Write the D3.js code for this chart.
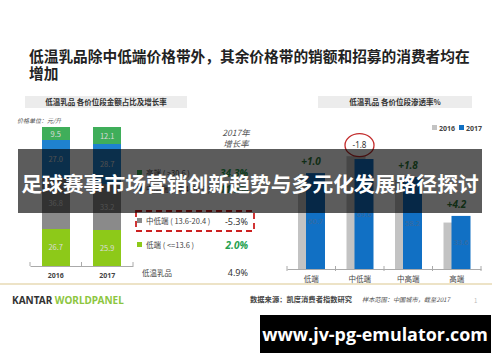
<!DOCTYPE html>
<html>
<head>
<meta charset="utf-8">
<script src="https://cdn.jsdelivr.net/npm/d3@7"></script>
<style>
  body { margin: 0; background: #fff; }
  svg { display: block; font-family: "Noto Sans CJK SC", "Noto Sans", sans-serif; }
</style>
</head>
<body>
<div id="chart"></div>
<script>
// left: share of sales by price band (stacked, %)
var years = ['2016', '2017']
var bands = ['低端', '中低端', '中高端', '高端']
var share2016 = [26.7, 36.8, 27.0, 9.5]
var share2017 = [25.9, 33.2, 28.7, 12.1]
var bandColors = ['#8dc919', '#8a8a8a', '#1f82cf', '#3fae5a']

// legend / growth column (top to bottom)
var legendNames = ['高端', '中高端', '中低端', '低端']
var legendRanges = ['( >30.6 )', '( 20.4-30.6 )', '( 13.6-20.4 )', '( <=13.6 )']
var growth2017 = ['34.3%', '11.5%', '-5.3%', '2.0%']
var totalGrowth = '4.9%'

// right: penetration by price band
var penCats = ['低端', '中低端', '中高端', '高端']
var pen2016 = [59.7, 71.4, 56.4, 29.4]
var pen2017 = [60.7, 69.6, 58.2, 33.6]
var penDiff = ['+1.0', '-1.8', '+1.8', '+4.2']

var svg = d3.select('#chart').append('svg')
  .attr('width', 500)
  .attr('height', 362)

svg.append('rect').attr('width', 500).attr('height', 362).style('fill', '#fff')

// title
svg.append('text')
  .attr('x', 29).attr('y', 62)
  .style('font-size', '14.7px').style('font-weight', 700).style('fill', '#222')
  .text('低温乳品除中低端价格带外，其余价格带的销额和招募的消费者均在')
svg.append('text')
  .attr('x', 29).attr('y', 79)
  .style('font-size', '14.7px').style('font-weight', 700).style('fill', '#222')
  .text('增加')

// panel headers
function header(x0, x1, label) {
  svg.append('rect')
    .attr('x', x0).attr('y', 96).attr('width', x1 - x0).attr('height', 12)
    .style('fill', '#ececec')
  svg.append('text')
    .attr('x', (x0 + x1) / 2).attr('y', 105)
    .style('text-anchor', 'middle').style('font-size', '7.5px').style('font-weight', 700)
    .style('fill', '#333')
    .text(label)
}
header(25, 187, '低温乳品  各价位段金额占比及增长率')
header(318, 472, '低温乳品  各价位段渗透率%')

svg.append('text')
  .attr('x', 17).attr('y', 123)
  .style('font-size', '6px').style('font-style', 'italic').style('fill', '#555')
  .text('价格单位：元/升')

// ---- left stacked bars
var xL = d3.scaleBand().domain(years).range([30, 133])
var yL = d3.scaleLinear().domain([0, 100]).range([266, 127])
var barW = 28

var shares = [share2016, share2017]
var gL = svg.append('g')
years.forEach(function(yr, i) {
  var stackData = d3.stack().keys(d3.range(bands.length))([shares[i]])
  var cx = xL(yr) + xL.bandwidth() / 2
  stackData.forEach(function(layer, k) {
    var s = layer[0]
    gL.append('rect')
      .attr('x', cx - barW / 2)
      .attr('y', yL(s[1]))
      .attr('width', barW)
      .attr('height', yL(s[0]) - yL(s[1]))
      .style('fill', bandColors[k])
      .style('shape-rendering', 'crispEdges')
    gL.append('text')
      .attr('x', cx)
      .attr('y', (yL(s[0]) + yL(s[1])) / 2 + 3)
      .style('text-anchor', 'middle').style('font-size', '7.5px')
      .style('fill', '#dcdcdc')
      .text(shares[i][k].toFixed(1))
  })
})

var axL = d3.axisBottom(xL).tickSize(0).tickPadding(7)
var gAxL = svg.append('g').attr('transform', 'translate(0,266)').call(axL)
gAxL.select('.domain').style('stroke', '#aaa')
gAxL.selectAll('text').style('font-size', '7px').style('font-weight', 700).style('fill', '#444')
  .style('font-family', '"Noto Sans", sans-serif')
gAxL.selectAll('.sep').data([30, 30 + xL.bandwidth(), 133]).enter().append('line')
  .attr('x1', d => d).attr('x2', d => d).attr('y1', -4).attr('y2', 0)
  .style('stroke', '#aaa')

// ---- growth column
svg.append('text')
  .attr('x', 236).attr('y', 136)
  .style('text-anchor', 'middle').style('font-size', '8.5px').style('font-style', 'italic')
  .style('fill', '#555').text('2017年')
svg.append('text')
  .attr('x', 236).attr('y', 147)
  .style('text-anchor', 'middle').style('font-size', '8.5px').style('font-style', 'italic')
  .style('fill', '#555').text('增长率')

var legendY = [173, 189, 221, 245]
var legendColors = bandColors.slice().reverse()
legendNames.forEach(function(n, i) {
  var y = legendY[i]
  svg.append('rect')
    .attr('x', 137).attr('y', y - 3).attr('width', 5).attr('height', 5)
    .style('fill', legendColors[i])
  svg.append('text')
    .attr('x', 146).attr('y', y + 3)
    .style('font-size', '7.5px').style('fill', '#444')
    .text(n + ' ' + legendRanges[i])
  var neg = growth2017[i].charAt(0) === '-'
  svg.append('text')
    .attr('x', 248).attr('y', y + 4)
    .style('text-anchor', 'end').style('font-size', neg ? '9px' : '10px')
    .style('font-style', neg ? 'normal' : 'italic').style('font-weight', neg ? 400 : 700)
    .style('font-family', '"Noto Sans", sans-serif')
    .style('fill', neg ? '#333' : '#25a150')
    .text(growth2017[i])
})
svg.append('text')
  .attr('x', 142).attr('y', 276)
  .style('font-size', '7.5px').style('fill', '#444').text('低温乳品')
svg.append('text')
  .attr('x', 248).attr('y', 276)
  .style('text-anchor', 'end').style('font-size', '9px').style('fill', '#333')
  .style('font-family', '"Noto Sans", sans-serif')
  .text(totalGrowth)

svg.append('rect')
  .attr('x', 136).attr('y', 211).attr('width', 118).attr('height', 20)
  .style('fill', 'none').style('stroke', '#cc2020').style('stroke-width', 1.8)
  .style('stroke-dasharray', '6,4')

// ---- right grouped bars
var xR = d3.scaleBand().domain(penCats).range([287, 481])
var yR = d3.scaleLinear().domain([0, 100]).range([269, 111])
var bw = 19
var gR = svg.append('g')

gR.selectAll('.b16').data(pen2016).enter().append('rect')
  .attr('x', (d, i) => xR(penCats[i]) + 11)
  .attr('y', d => yR(d))
  .attr('width', bw)
  .attr('height', d => yR(0) - yR(d))
  .style('fill', '#c3c3c3')

gR.selectAll('.b17').data(pen2017).enter().append('rect')
  .attr('x', (d, i) => xR(penCats[i]) + 19)
  .attr('y', d => yR(d))
  .attr('width', bw)
  .attr('height', d => yR(0) - yR(d))
  .style('fill', '#1170c4')

gR.selectAll('.v17').data(pen2017).enter().append('text')
  .attr('x', (d, i) => xR(penCats[i]) + 19 + bw / 2)
  .attr('y', d => (yR(d) + yR(0)) / 2 + 3)
  .style('text-anchor', 'middle').style('font-size', '7.5px')
  .style('font-family', '"Noto Sans", sans-serif')
  .style('fill', '#3d6a9a')
  .text(d => d.toFixed(1))

gR.selectAll('.diff').data(penDiff).enter().append('text')
  .attr('x', (d, i) => xR(penCats[i]) + 24)
  .attr('y', (d, i) => Math.min(yR(pen2016[i]), yR(pen2017[i])) - 8)
  .style('text-anchor', 'middle')
  .style('font-family', '"Noto Sans", sans-serif')
  .style('font-size', d => d.charAt(0) === '-' ? '8px' : '10px')
  .style('font-style', d => d.charAt(0) === '-' ? 'normal' : 'italic')
  .style('font-weight', d => d.charAt(0) === '-' ? 400 : 700)
  .style('fill', d => d.charAt(0) === '-' ? '#333' : '#2f7d3a')
  .text(d => d)

// circle round the negative change
penDiff.forEach(function(d, i) {
  if (d.charAt(0) !== '-') return
  svg.append('ellipse')
    .attr('cx', xR(penCats[i]) + 24)
    .attr('cy', Math.min(yR(pen2016[i]), yR(pen2017[i])) - 11)
    .attr('rx', 14.5).attr('ry', 11.5)
    .style('fill', 'none').style('stroke', '#c22a2a').style('stroke-width', 1.3)
})

var axR = d3.axisBottom(xR).tickSize(0).tickPadding(8)
var gAxR = svg.append('g').attr('transform', 'translate(0,269)').call(axR)
gAxR.select('.domain').style('stroke', '#aaa')
gAxR.selectAll('text').style('font-size', '7.5px').style('fill', '#444')
  .style('font-family', '"Noto Sans CJK SC", sans-serif')
gAxR.selectAll('.sep').data(d3.range(penCats.length + 1)).enter().append('line')
  .attr('x1', d => 287 + d * xR.step()).attr('x2', d => 287 + d * xR.step())
  .attr('y1', -3).attr('y2', 2)
  .style('stroke', '#aaa')

// right legend
var legR = [['2016', '#c3c3c3', 432], ['2017', '#1170c4', 459]]
legR.forEach(function(l) {
  svg.append('rect').attr('x', l[2]).attr('y', 125).attr('width', 5).attr('height', 5).style('fill', l[1])
  svg.append('text').attr('x', l[2] + 7).attr('y', 130.5)
    .style('font-size', '7px').style('font-weight', 700).style('fill', '#444')
    .style('font-family', '"Noto Sans", sans-serif')
    .text(l[0])
})

// separator + footer
svg.append('line')
  .attr('x1', 0).attr('x2', 492).attr('y1', 284).attr('y2', 284)
  .style('stroke', '#dcc78f').style('stroke-width', 1.2)

var kt = svg.append('text')
  .attr('x', 12).attr('y', 304)
  .style('font-size', '10px').style('font-weight', 700)
  .style('font-family', '"Noto Sans", sans-serif')
kt.append('tspan').style('fill', '#333').text('KANTAR ')
kt.append('tspan').style('fill', '#8dc63f').text('WORLDPANEL')

svg.append('text')
  .attr('x', 250).attr('y', 302)
  .style('font-size', '7.3px').style('font-weight', 700).style('fill', '#444')
  .text('数据来源：凯度消费者指数研究')
svg.append('text')
  .attr('x', 362).attr('y', 302)
  .style('font-size', '6.2px').style('font-style', 'italic').style('fill', '#555')
  .text('样本范围：中国城市，截至2017')
svg.append('text')
  .attr('x', 474).attr('y', 303)
  .style('font-size', '6px').style('fill', '#bbb').text('1')

// overlay banner
svg.append('rect')
  .attr('x', 18).attr('y', 149).attr('width', 464).attr('height', 64)
  .style('fill', 'rgba(0,0,0,0.64)')
svg.append('text')
  .attr('x', 250).attr('y', 192)
  .style('text-anchor', 'middle').style('font-size', '20.8px').style('font-weight', 700)
  .style('fill', '#fff')
  .text('足球赛事市场营销创新趋势与多元化发展路径探讨')

// watermark
svg.append('rect')
  .attr('x', 260).attr('y', 315).attr('width', 231).attr('height', 38)
  .style('fill', '#000')
svg.append('text')
  .attr('x', 375).attr('y', 341)
  .style('text-anchor', 'middle').style('font-size', '17.9px').style('font-weight', 700)
  .style('font-family', '"Open Sans", "Noto Sans", sans-serif')
  .style('fill', '#fff')
  .text('www.jv-pg-emulator.com')
</script>
</body>
</html>
